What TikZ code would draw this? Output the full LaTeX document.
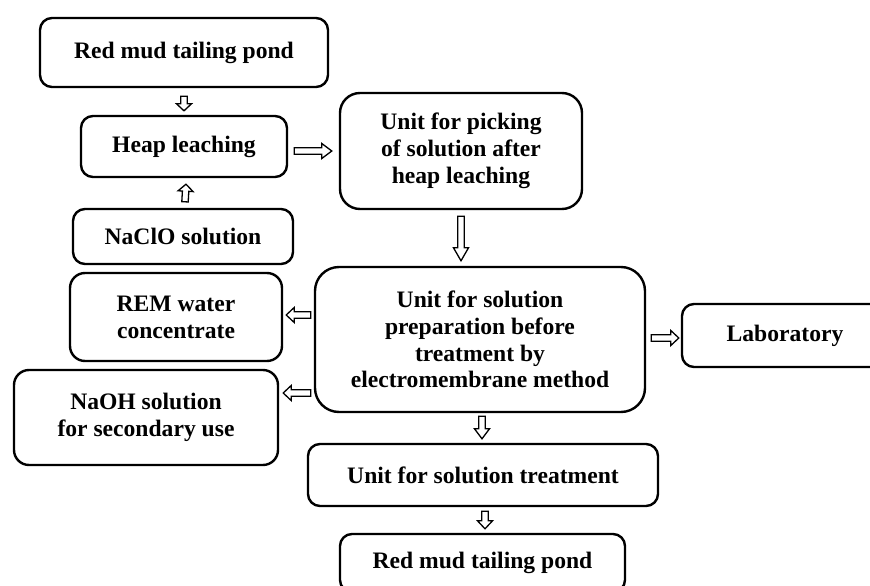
\documentclass[tikz,border=0pt]{standalone}
\usepackage{fontspec}
\setmainfont{Liberation Serif}
\usetikzlibrary{calc}
\begin{document}
\begin{tikzpicture}[x=1pt,y=-1pt,
  box/.style={draw, line width=2.4pt, rounded corners=12pt, align=center,
    inner sep=0pt, font=\bfseries\fontsize{23.6}{26.8}\selectfont},
  wh/.style 2 args={minimum width=#1pt, minimum height=#2pt},
  barrow/.style={draw, fill=white, line width=1.3pt, line join=miter,
    to path={let \p1=(\tikztostart), \p2=(\tikztotarget),
      \p3=($(\p2)!#1!(\p1)$) in
      ($(\p1)!3.2pt!90:(\p2)$) -- ($(\p3)!3.2pt!90:(\p2)$) --
      ($(\p3)!7.5pt!90:(\p2)$) -- (\p2) -- ($(\p3)!7.5pt!-90:(\p2)$) --
      ($(\p3)!3.2pt!-90:(\p2)$) -- ($(\p1)!3.2pt!-90:(\p2)$) -- cycle}},
  barrow/.default=11pt]
\useasboundingbox (0,0) rectangle (870,586);
\fill[white] (0,0) rectangle (870,586);
\clip (0,0) rectangle (870,586);

\node[box, wh={288}{69}] (red1) at (184,52.5) {Red mud tailing pond};
\node[box, wh={206}{61}] (heap) at (184,146.5) {Heap leaching};
\node[box, wh={220}{55}] (naclo) at (183,236.5) {NaClO solution};
\node[box, wh={242}{116}, rounded corners=20pt] (pick) at (461,151)
  {Unit for picking\\of solution after\\heap leaching};
\node[box, wh={330}{145}, rounded corners=24pt] (prep) at (480,339.5)
  {Unit for solution\\preparation before\\treatment by\\electromembrane method};
\node[box, wh={212}{88}, rounded corners=15pt] (rem) at (176,317)
  {REM water\\concentrate};
\node[box, wh={264}{95}, rounded corners=15pt] (naoh) at (146,417.5)
  {NaOH solution\\for secondary use};
\node[box, wh={206}{63}] (lab) at (785,335.5) {Laboratory};
\node[box, wh={350}{62}] (treat) at (483,475) {Unit for solution treatment};
\node[box, wh={285}{58}] (red2) at (482.5,563) {Red mud tailing pond};

\path[barrow=7pt] ($(red1.south)+(0,8)$) to ($(heap.north)+(0,-4)$);
\path[barrow=7pt] ($(naclo.north)+(2,-6)$) to ($(heap.south)+(2,6)$);
\path[barrow=10pt] ($(heap.east)+(6,4.5)$) to ($(pick.west)+(-7,0)$);
\path[barrow=13pt] ($(pick.south)+(0,6)$) to ($(prep.north)+(-19,-5)$);
\path[barrow=8pt] ($(prep.west)+(-3,-24.5)$) to ($(rem.east)+(3,-2)$);
\path[barrow=8pt] ($(prep.west)+(-3,53.5)$) to ($(naoh.east)+(4,-24.5)$);
\path[barrow=8pt] ($(prep.east)+(5,-1.5)$) to ($(lab.west)+(-2,2.5)$);
\path[barrow=10pt] ($(prep.south)+(2,3)$) to ($(treat.north)+(-1,-4)$);
\path[barrow=8pt] ($(treat.south)+(2,4)$) to ($(red2.north)+(2.5,-4)$);
\end{tikzpicture}
\end{document}
